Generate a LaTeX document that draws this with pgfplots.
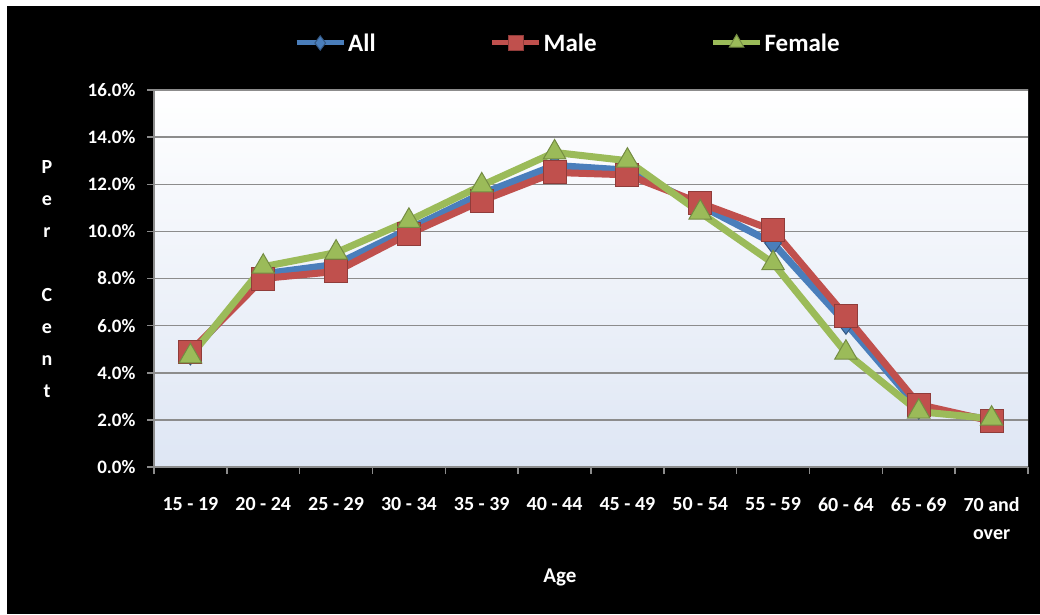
\documentclass[border=0pt]{standalone}
\usepackage{pgfplots}
\pgfplotsset{compat=1.18}
\usepackage{fontspec}
\setmainfont{Carlito}
\definecolor{cAll}{RGB}{74,126,187}
\definecolor{cMale}{RGB}{192,80,77}
\definecolor{cFem}{RGB}{155,187,89}
\definecolor{gridc}{RGB}{140,140,140}
\begin{document}
\begin{tikzpicture}[x=1pt,y=1pt]
\fill[white] (0,0) rectangle (1040,614);
\fill[black] (7,0) rectangle (1040,608);
\begin{axis}[
  at={(154pt,147pt)}, anchor=south west,
  width=874pt, height=377pt, scale only axis,
  axis background/.style={top color=white, middle color={rgb,255:red,196;green,211;blue,236}, bottom color={rgb,255:red,222;green,230;blue,244}},
  xmin=-0.5, xmax=11.5, ymin=0, ymax=16,
  axis lines=left, axis line style={-, draw=gridc, line width=2pt},
  ytick={0,2,...,16},
  yticklabels={0.0\%,2.0\%,4.0\%,6.0\%,8.0\%,10.0\%,12.0\%,14.0\%,16.0\%},
  yticklabel style={xshift=-8pt},
  ymajorgrids, grid style={draw=gridc, line width=1.5pt},
  xtick={-0.5,0.5,...,11.5}, xticklabels={},
  extra x ticks={0,1,...,11},
  extra x tick labels={15 - 19,20 - 24,25 - 29,30 - 34,35 - 39,40 - 44,45 - 49,50 - 54,55 - 59,60 - 64,65 - 69,{70 and\\over}},
  extra x tick style={major tick length=0pt, grid=none, xticklabel style={align=center, anchor=north, yshift=-27pt, font=\fontsize{20}{28}\selectfont\bfseries}},
  tick align=outside, major tick length=7pt,
  tick style={draw=gridc, line width=1.5pt},
  ticklabel style={font=\fontsize{19}{29}\selectfont\bfseries, text=white},
  xlabel={Age},
  xlabel style={at={(axis description cs:0.4645,-0.294)}, anchor=center, font=\fontsize{21}{24}\selectfont\bfseries, text=white},
  ylabel={P\\e\\r\\~\\C\\e\\n\\t},
  ylabel style={rotate=-90, at={(axis description cs:-0.1224,0.4987)}, anchor=center, align=center, font=\fontsize{20}{32}\selectfont\bfseries, text=white},
  legend columns=3,
  legend style={at={(axis description cs:0.1568,1.1247)}, anchor=west, draw=none, fill=none, text=white, font=\fontsize{25}{28}\selectfont\bfseries, /tikz/every even column/.append style={column sep=112pt}},
  legend image code/.code={\draw[mark repeat=2,mark phase=2,#1,line width=5pt,/tikz/every mark/.append style={scale=0.65}] plot coordinates {(0pt,0pt) (23.5pt,0pt) (47pt,0pt)};},
]
\addplot[color=cAll, line width=7pt, mark=diamond*, mark size=11pt, mark options={fill=cAll, draw=cAll!70!black, line width=1pt}]
  coordinates {(0,4.8) (1,8.2) (2,8.6) (3,10.1) (4,11.6) (5,12.8) (6,12.6) (7,11.1) (8,9.5) (9,6.1) (10,2.5) (11,2.0)};
\addlegendentry{All}
\addplot[color=cMale, line width=7pt, mark=square*, mark size=11.5pt, mark options={fill=cMale, draw=cMale!75!black, line width=1pt}]
  coordinates {(0,4.9) (1,8.0) (2,8.3) (3,9.9) (4,11.3) (5,12.5) (6,12.4) (7,11.2) (8,10.05) (9,6.4) (10,2.65) (11,1.95)};
\addlegendentry{Male}
\addplot[color=cFem, line width=7pt, mark=triangle*, mark size=13pt, mark options={fill=cFem, draw=cFem!75!black, line width=1pt}]
  coordinates {(0,4.7) (1,8.5) (2,9.1) (3,10.45) (4,11.95) (5,13.35) (6,13.0) (7,10.8) (8,8.65) (9,4.85) (10,2.35) (11,2.05)};
\addlegendentry{Female}
\end{axis}
\end{tikzpicture}
\end{document}
